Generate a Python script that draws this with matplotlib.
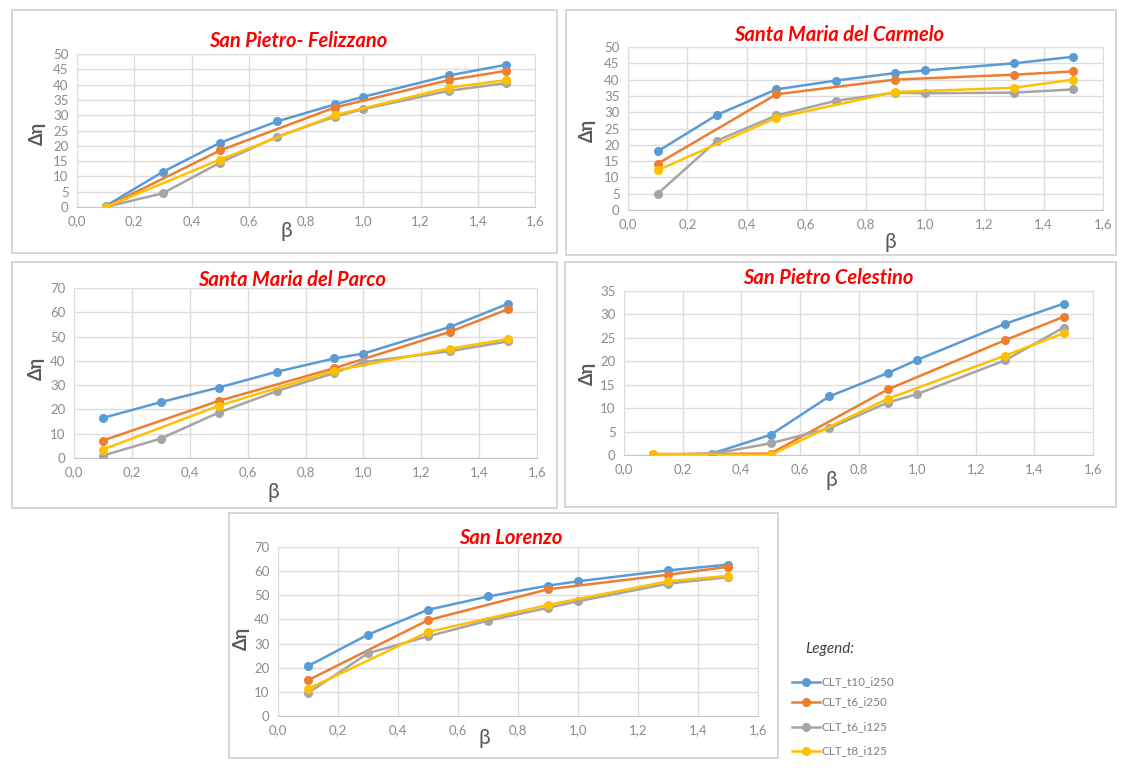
import matplotlib
matplotlib.use("Agg")
import matplotlib.pyplot as plt
from matplotlib.patches import Rectangle
from matplotlib.lines import Line2D
from matplotlib.ticker import FuncFormatter, MultipleLocator

plt.rcParams["font.family"] = ["Lato", "DejaVu Sans"]

W, H = 1121, 772

beta_full = [0.1, 0.3, 0.5, 0.7, 0.9, 1.0, 1.3, 1.5]
beta_short = [0.1, 0.5, 0.9, 1.3, 1.5]

series_names = ["CLT_t10_i250", "CLT_t6_i250", "CLT_t6_i125", "CLT_t8_i125"]
series_colors = ["#5B9BD5", "#ED7D31", "#A5A5A5", "#FFC000"]

# San Pietro- Felizzano
felizzano_t10_i250 = [0.3, 11.5, 21.0, 28.0, 33.5, 36.0, 43.0, 46.5]
felizzano_t6_i250 = [0.0, 18.5, 32.5, 41.5, 44.5]
felizzano_t6_i125 = [0.0, 4.5, 14.5, 23.0, 29.5, 32.0, 38.0, 40.5]
felizzano_t8_i125 = [0.0, 15.5, 30.0, 39.0, 41.5]

# Santa Maria del Carmelo
carmelo_t10_i250 = [18.0, 29.2, 37.0, 39.7, 42.0, 42.8, 45.0, 47.0]
carmelo_t6_i250 = [14.2, 35.5, 40.0, 41.5, 42.5]
carmelo_t6_i125 = [5.0, 21.3, 29.0, 33.5, 36.0, 35.8, 36.0, 37.0]
carmelo_t8_i125 = [12.2, 28.3, 36.2, 37.5, 40.0]

# Santa Maria del Parco
parco_t10_i250 = [16.5, 23.0, 29.0, 35.5, 41.0, 43.0, 54.0, 63.5]
parco_t6_i250 = [7.2, 23.5, 37.0, 52.0, 61.3]
parco_t6_i125 = [1.0, 8.0, 18.7, 27.5, 35.0, 39.5, 44.0, 48.0]
parco_t8_i125 = [3.5, 21.5, 36.0, 45.0, 49.0]

# San Pietro Celestino
celestino_t10_i250 = [0.0, 0.3, 4.3, 12.5, 17.5, 20.3, 28.0, 32.3]
celestino_t6_i250 = [0.2, 0.3, 14.0, 24.5, 29.5]
celestino_t6_i125 = [0.0, 0.2, 2.5, 5.7, 11.2, 13.0, 20.2, 27.2]
celestino_t8_i125 = [0.2, 0.0, 12.0, 21.2, 26.0]

# San Lorenzo
lorenzo_t10_i250 = [20.7, 33.7, 44.0, 49.5, 54.0, 55.8, 60.3, 62.7]
lorenzo_t6_i250 = [14.8, 39.7, 52.5, 58.5, 61.8]
lorenzo_t6_i125 = [9.5, 26.0, 33.0, 39.5, 44.8, 47.5, 54.8, 57.5]
lorenzo_t8_i125 = [11.2, 34.8, 46.0, 55.8, 58.0]

fig = plt.figure(figsize=(W / 100, H / 100), dpi=100)


def box(x0, y0, x1, y1):
    fig.patches.append(Rectangle((x0 / W, 1 - y1 / H), (x1 - x0) / W, (y1 - y0) / H,
                                 transform=fig.transFigure, facecolor="none",
                                 edgecolor="#CFCFCF", linewidth=1.2, zorder=-1))


def panel(title, data, ymax, ystep, plot_px, box_px, title_px, ylab_px, blab_px):
    box(*box_px)
    l, t, r, b = plot_px
    ax = fig.add_axes([l / W, 1 - b / H, (r - l) / W, (b - t) / H])
    xs = [beta_full, beta_short, beta_full, beta_short]
    for x, y, c in zip(xs, data, series_colors):
        ax.plot(x, y, color=c, linewidth=1.8, marker="o", markersize=5.5, zorder=3)
    ax.set_xlim(0, 1.6)
    ax.set_ylim(0, ymax)
    ax.xaxis.set_major_locator(MultipleLocator(0.2))
    ax.yaxis.set_major_locator(MultipleLocator(ystep))
    ax.xaxis.set_major_formatter(FuncFormatter(lambda v, p: f"{v:.1f}".replace(".", ",")))
    ax.yaxis.set_major_formatter(FuncFormatter(lambda v, p: f"{v:.0f}"))
    ax.tick_params(length=0, labelsize=9.5, labelcolor="#8C8C8C", pad=6)
    ax.grid(True, color="#DDDDDD", linewidth=1.0)
    ax.set_axisbelow(True)
    for s in ax.spines.values():
        s.set_color("#DDDDDD")
    ax.spines["bottom"].set_color("#C8C8C8")
    fig.text(title_px[0] / W, 1 - title_px[1] / H, title, color="#FF0000", fontsize=14.5,
             fontweight="bold", fontstyle="italic", ha="center", va="center")
    fig.text(ylab_px[0] / W, 1 - ylab_px[1] / H, "Δη", color="#595959", fontsize=13,
             fontweight="bold", rotation=90, ha="center", va="center")
    fig.text(blab_px[0] / W, 1 - blab_px[1] / H, "β", color="#595959", fontsize=15,
             ha="center", va="center")
    return ax


panel("San Pietro- Felizzano",
      [felizzano_t10_i250, felizzano_t6_i250, felizzano_t6_i125, felizzano_t8_i125],
      50, 5, (77, 54, 535, 207), (12, 10, 557, 253), (298, 41), (37, 133), (286, 231))

panel("Santa Maria del Carmelo",
      [carmelo_t10_i250, carmelo_t6_i250, carmelo_t6_i125, carmelo_t8_i125],
      50, 5, (628, 47, 1103, 210), (566, 10, 1116, 255), (839, 35), (587, 130), (890, 242))

panel("Santa Maria del Parco",
      [parco_t10_i250, parco_t6_i250, parco_t6_i125, parco_t8_i125],
      70, 10, (74, 288, 537, 458), (12, 262, 557, 508), (292, 280), (36, 368), (273, 492))

panel("San Pietro Celestino",
      [celestino_t10_i250, celestino_t6_i250, celestino_t6_i125, celestino_t8_i125],
      35, 5, (624, 291, 1093, 455), (565, 262, 1116, 507), (828, 278), (587, 373), (831, 480))

panel("San Lorenzo",
      [lorenzo_t10_i250, lorenzo_t6_i250, lorenzo_t6_i125, lorenzo_t8_i125],
      70, 10, (278, 547, 758, 716), (229, 513, 778, 758), (511, 538), (241, 638), (484, 738))

# legend block to the right of the last panel
fig.text(830 / W, 1 - 649 / H, "Legend:", color="#404040", fontsize=11,
         fontstyle="italic", ha="center", va="center")
legend_y = [682, 702, 727, 751]
for name, c, yy in zip(series_names, series_colors, legend_y):
    fig.add_artist(Line2D([792 / W, 820 / W], [1 - yy / H, 1 - yy / H], color=c,
                          linewidth=1.8, transform=fig.transFigure))
    fig.add_artist(Line2D([806 / W], [1 - yy / H], color=c, marker="o", markersize=5.5,
                          transform=fig.transFigure))
    fig.text(822 / W, 1 - yy / H, name, color="#7F7F7F", fontsize=8.5, ha="left", va="center")

fig.savefig("out.png", dpi=100, facecolor="white")
